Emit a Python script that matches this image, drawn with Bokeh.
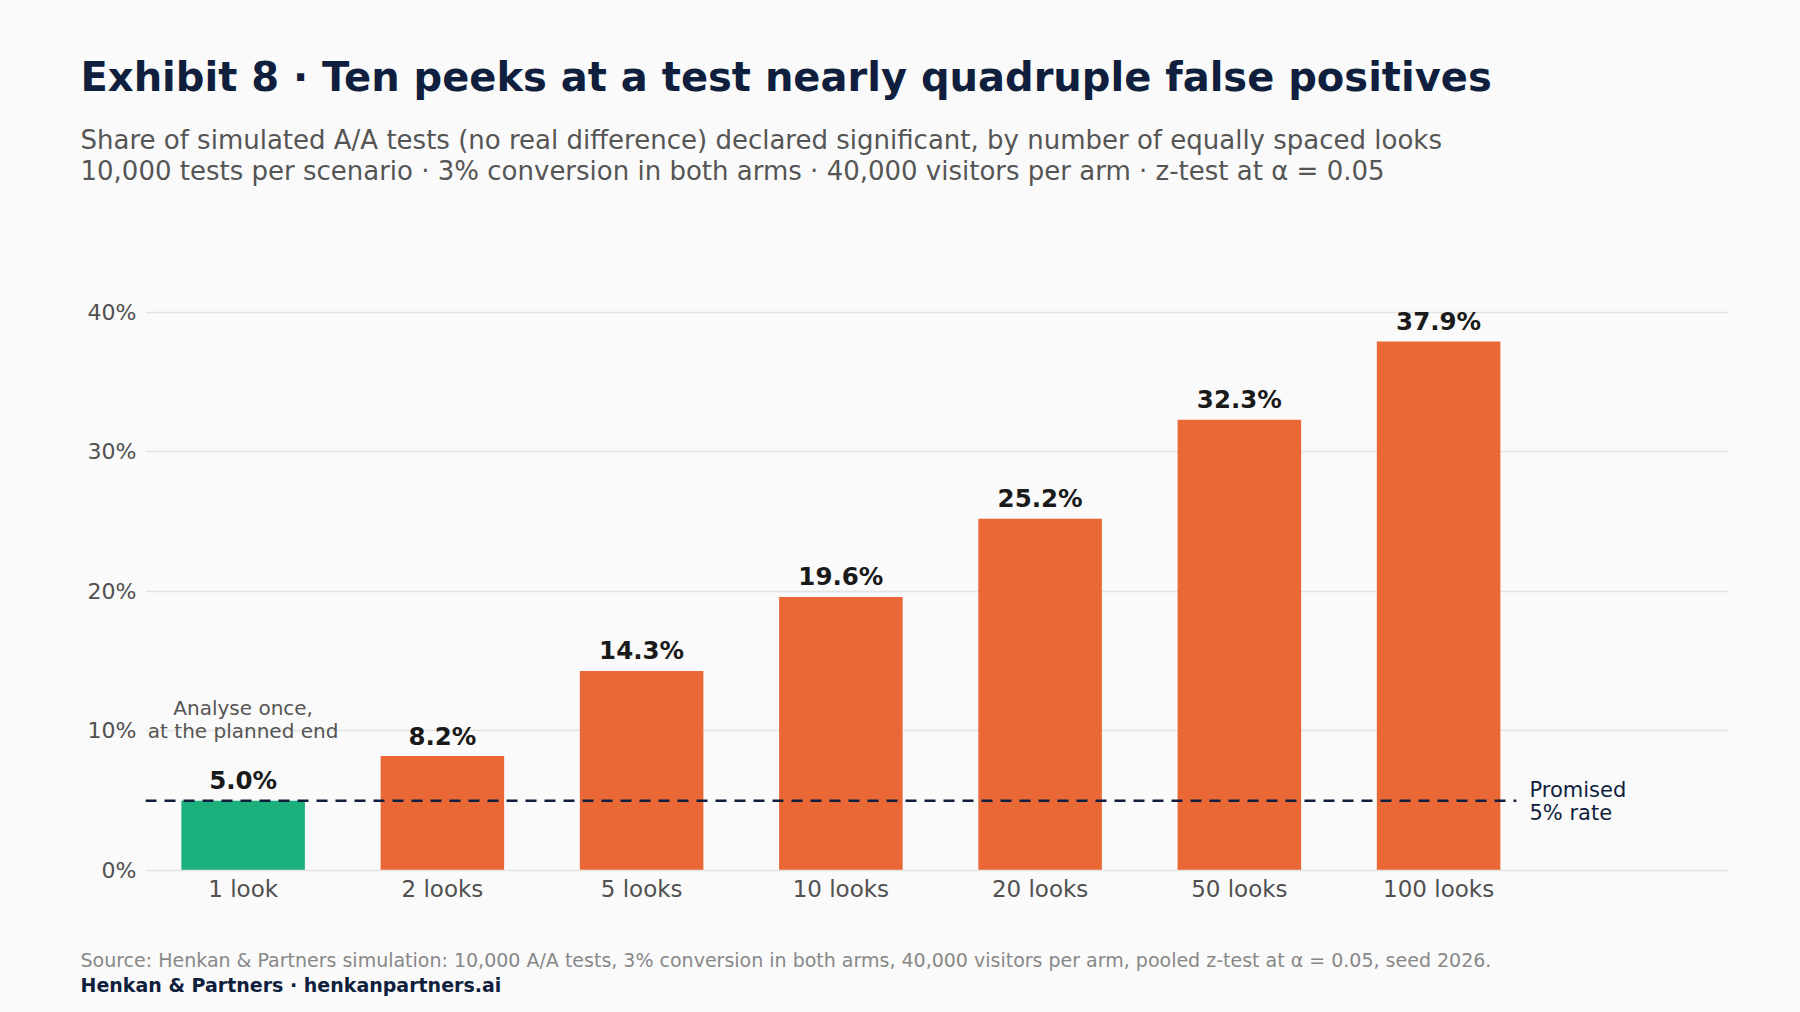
from bokeh.plotting import figure
from bokeh.models import ColumnDataSource, Range1d, FixedTicker, Label
from bokeh.core.properties import value
from bokeh.embed import file_html
from bokeh.resources import INLINE

# ---- data ----
looks = ["1 look", "2 looks", "5 looks", "10 looks", "20 looks", "50 looks", "100 looks"]
false_positive_rate = [5.0, 8.2, 14.3, 19.6, 25.2, 32.3, 37.9]
promised_rate = 5.0
y_ticks = [0, 10, 20, 30, 40]
y_tick_labels = ["0%", "10%", "20%", "30%", "40%"]

title = "Exhibit 8 \u00b7 Ten peeks at a test nearly quadruple false positives"
subtitle_1 = "Share of simulated A/A tests (no real difference) declared significant, by number of equally spaced looks"
subtitle_2 = "10,000 tests per scenario \u00b7 3% conversion in both arms \u00b7 40,000 visitors per arm \u00b7 z-test at \u03b1 = 0.05"
source_txt = "Source: Henkan & Partners simulation: 10,000 A/A tests, 3% conversion in both arms, 40,000 visitors per arm, pooled z-test at \u03b1 = 0.05, seed 2026."
brand_txt = "Henkan & Partners \u00b7 henkanpartners.ai"
ref_label = ["Promised", "5% rate"]
first_note = ["Analyse once,", "at the planned end"]

# ---- style ----
BG = "#fafafa"
NAVY = "#0f1f3d"
GREEN = "#1bb07c"
ORANGE = "#e96836"
GRID = "#e4e4e0"
FONT = "DejaVu Sans"
W = 1784


def text_panel(height):
    f = figure(width=W, height=height, output_backend="svg", toolbar_location=None,
               x_range=Range1d(0, W), y_range=Range1d(0, height),
               x_axis_type=None, y_axis_type=None)
    f.min_border = 0
    f.min_border_left = f.min_border_right = f.min_border_top = f.min_border_bottom = 0
    f.background_fill_color = BG
    f.border_fill_color = BG
    f.outline_line_color = None
    f.xgrid.grid_line_color = None
    f.ygrid.grid_line_color = None
    return f


def put(fig, text, x, y, size, color, bold=False, align="left"):
    fig.add_layout(Label(x=x, y=y, text=text, text_font=FONT, text_font_size=size,
                         text_color=color, text_font_style="bold" if bold else "normal",
                         text_align=align, text_baseline="alphabetic"))


# ---- header ----
HEADER_H = 200
head = text_panel(HEADER_H)
put(head, title, 80, 124, "40px", NAVY, bold=True)
put(head, subtitle_1, 80, 61, "26px", "#555555")
put(head, subtitle_2, 80, 30, "26px", "#555555")

# ---- main chart ----
xs = list(range(len(looks)))
colors = [GREEN] + [ORANGE] * (len(looks) - 1)
src = ColumnDataSource(dict(
    x=xs,
    top=false_positive_rate,
    color=colors,
    label=[f"{v:.1f}%" for v in false_positive_rate],
))

p = figure(width=W, height=730, output_backend="svg", toolbar_location=None,
           x_range=Range1d(-0.49, 7.455), y_range=Range1d(0, 44))
p.min_border_left = 145
p.min_border_right = 56
p.min_border_top = 56
p.min_border_bottom = 60
p.background_fill_color = BG
p.border_fill_color = BG
p.outline_line_color = None

p.vbar(x="x", top="top", width=0.62, fill_color="color", line_color=None, source=src)

p.line(x=[-0.49, 6.39], y=[promised_rate, promised_rate], line_color=NAVY,
       line_width=2.5, line_dash="11 8")

p.text(x="x", y="top", text="label", source=src, text_align="center",
       text_baseline="alphabetic", y_offset=-20, text_font=value(FONT),
       text_font_style="bold", text_font_size="24.5px", text_color="#1a1a1a")

p.xaxis.ticker = FixedTicker(ticks=xs)
p.xaxis.major_label_overrides = {i: l for i, l in zip(xs, looks)}
p.xaxis.axis_line_color = GRID
p.xaxis.axis_line_width = 1.5
p.xaxis.major_tick_line_color = None
p.xaxis.major_tick_out = 0
p.xaxis.major_tick_in = 0
p.xaxis.minor_tick_line_color = None
p.xaxis.major_label_standoff = 5
p.xaxis.major_label_text_font = FONT
p.xaxis.major_label_text_font_size = "23px"
p.xaxis.major_label_text_color = "#505050"

p.yaxis.ticker = FixedTicker(ticks=y_ticks)
p.yaxis.major_label_overrides = {t: l for t, l in zip(y_ticks, y_tick_labels)}
p.yaxis.axis_line_color = None
p.yaxis.major_tick_line_color = None
p.yaxis.major_tick_out = 0
p.yaxis.major_tick_in = 0
p.yaxis.minor_tick_line_color = None
p.yaxis.major_label_standoff = 9
p.yaxis.major_label_text_font = FONT
p.yaxis.major_label_text_font_size = "22px"
p.yaxis.major_label_text_color = "#505050"

p.xgrid.grid_line_color = None
p.ygrid.ticker = FixedTicker(ticks=y_ticks)
p.ygrid.grid_line_color = GRID
p.ygrid.grid_line_width = 1.5

put(p, ref_label[0], 6.456, 5.74, "21px", NAVY)
put(p, ref_label[1], 6.456, 4.10, "21px", NAVY)
put(p, first_note[0], 0, 11.68, "20px", "#555555", align="center")
put(p, first_note[1], 0, 9.97, "20px", "#555555", align="center")

# ---- footer ----
FOOTER_H = 996 - HEADER_H - 730
foot = text_panel(FOOTER_H)
put(foot, source_txt, 80, 37, "19px", "#888888")
put(foot, brand_txt, 80, 12, "19px", NAVY, bold=True)

html = file_html([head, p, foot], INLINE)
html = html.replace("<head>", "<head><style>html, body { background: #fafafa; }</style>", 1)
open("out.html", "w").write(html)
